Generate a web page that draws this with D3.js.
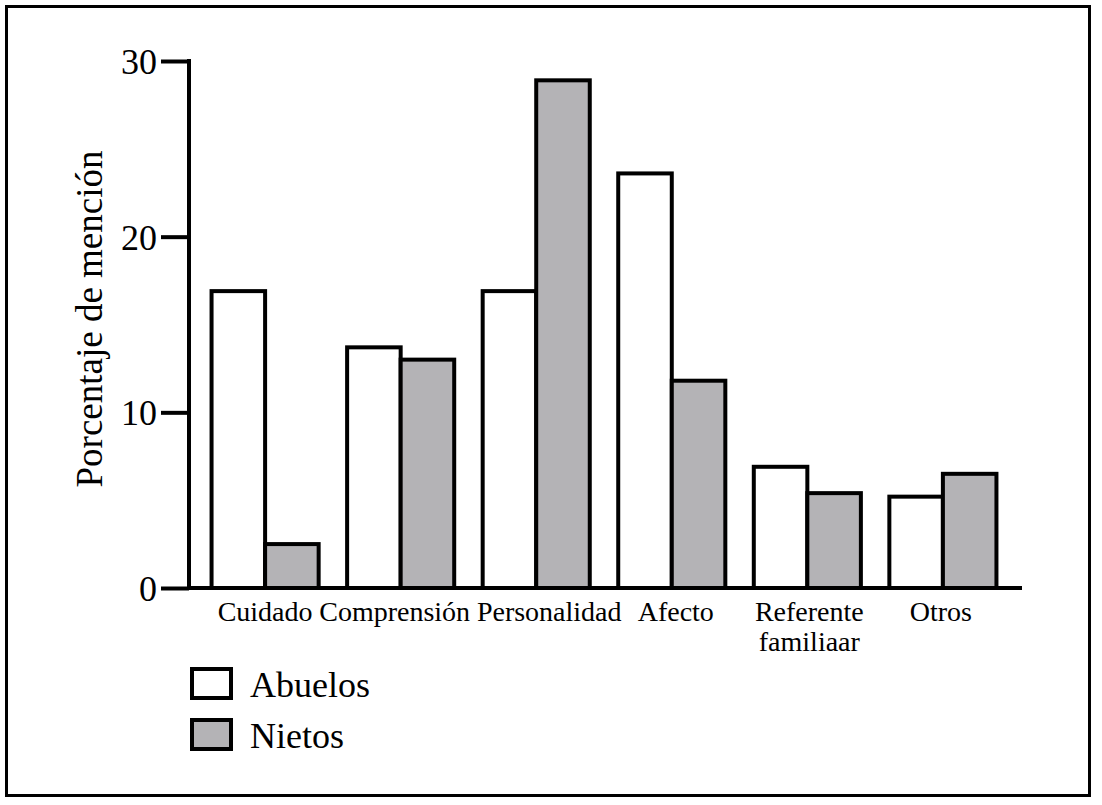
<!DOCTYPE html>
<html>
<head>
<meta charset="utf-8">
<script src="https://cdn.jsdelivr.net/npm/d3@7"></script>
<style>
  body { margin: 0; background: #fff; }
</style>
</head>
<body>
<script>
// data
var categories = ['Cuidado', 'Comprensión', 'Personalidad', 'Afecto', 'Referente|familiaar', 'Otros'];
var series = ['Abuelos', 'Nietos'];
var abuelos = [16.9, 13.7, 16.9, 23.6, 6.9, 5.2];
var nietos = [2.5, 13.0, 28.9, 11.8, 5.4, 6.5];
var yTicks = [0, 10, 20, 30];
var colors = ['#ffffff', '#b4b3b6'];

var w = 1102, h = 805;
var serif = '"Liberation Serif"';

var svg = d3.select('body')
  .append('svg')
  .attr('width', w)
  .attr('height', h);

// outer frame
svg.append('rect')
  .attr('x', 6.5).attr('y', 6.5)
  .attr('width', 1083).attr('height', 789)
  .attr('fill', 'none')
  .attr('stroke', '#000')
  .attr('stroke-width', 3);

var y = d3.scaleLinear().domain([0, 30]).range([588, 61]);

var x0 = d3.scaleBand()
  .domain(categories)
  .range([198, 1010])
  .paddingInner(0.21)
  .paddingOuter(0.1);

var x1 = d3.scaleBand()
  .domain(series)
  .range([0, x0.bandwidth()]);

var rows = categories.map(function(c, i) {
  return {cat: c, vals: [abuelos[i], nietos[i]]};
});

var groups = svg.selectAll('g.grp')
  .data(rows)
  .enter()
  .append('g')
  .attr('class', 'grp')
  .attr('transform', function(d) { return 'translate(' + x0(d.cat) + ',0)'; });

groups.selectAll('rect')
  .data(function(d) { return d.vals.map(function(v, j) { return {s: series[j], v: v, j: j}; }); })
  .enter()
  .append('rect')
  .attr('x', function(d) { return x1(d.s); })
  .attr('y', function(d) { return y(d.v); })
  .attr('width', x1.bandwidth())
  .attr('height', function(d) { return y(0) - y(d.v); })
  .attr('fill', function(d) { return colors[d.j]; })
  .attr('stroke', '#000')
  .attr('stroke-width', 4);

// y axis
var yAxis = d3.axisLeft(y)
  .tickValues(yTicks)
  .tickSize(28)
  .tickPadding(4);

var ya = svg.append('g')
  .attr('transform', 'translate(189,0)')
  .call(yAxis);
ya.select('.domain').remove();
ya.selectAll('line').attr('stroke', '#000').attr('stroke-width', 4);
ya.selectAll('text')
  .style('font-family', serif)
  .attr('font-size', 36)
  .attr('dy', '0.35em');

svg.append('line')
  .attr('x1', 189).attr('x2', 189)
  .attr('y1', y(30) - 2).attr('y2', y(0) + 2)
  .attr('stroke', '#000').attr('stroke-width', 4);

// x axis baseline
svg.append('line')
  .attr('x1', 187).attr('x2', 1022)
  .attr('y1', y(0)).attr('y2', y(0))
  .attr('stroke', '#000').attr('stroke-width', 4);

// category labels under the groups; the long ones are nudged so they don't collide
var labelDx = {'Comprensión': -6, 'Personalidad': 13, 'Afecto': 4, 'Referente|familiaar': 2, 'Otros': -2};
var labX = function(d) { return x0(d) + x0.bandwidth() / 2 + (labelDx[d] || 0); };

var lab = svg.selectAll('text.cat')
  .data(categories)
  .enter()
  .append('text')
  .attr('class', 'cat')
  .style('font-family', serif)
  .attr('text-anchor', 'middle')
  .attr('font-size', 28)
  .attr('x', labX)
  .attr('y', 621);

lab.selectAll('tspan')
  .data(function(d) { return d.split('|').map(function(t) { return {t: t, cat: d}; }); })
  .enter()
  .append('tspan')
  .attr('x', function(d) { return labX(d.cat); })
  .attr('dy', function(d, i) { return i === 0 ? 0 : 30; })
  .text(function(d) { return d.t; });

// y label
svg.append('text')
  .style('font-family', serif)
  .attr('transform', 'translate(102,319) rotate(-90)')
  .attr('text-anchor', 'middle')
  .attr('font-size', 37)
  .text('Porcentaje de mención');

// legend
var leg = svg.selectAll('g.leg')
  .data(series)
  .enter()
  .append('g')
  .attr('class', 'leg')
  .attr('transform', function(d, i) { return 'translate(192,' + (669 + i * 51) + ')'; });

leg.append('rect')
  .attr('width', 39).attr('height', 29)
  .attr('fill', function(d, i) { return colors[i]; })
  .attr('stroke', '#000')
  .attr('stroke-width', 4);

leg.append('text')
  .style('font-family', serif)
  .attr('x', 58)
  .attr('y', 28)
  .attr('font-size', 36)
  .text(function(d) { return d; });
</script>
</body>
</html>
